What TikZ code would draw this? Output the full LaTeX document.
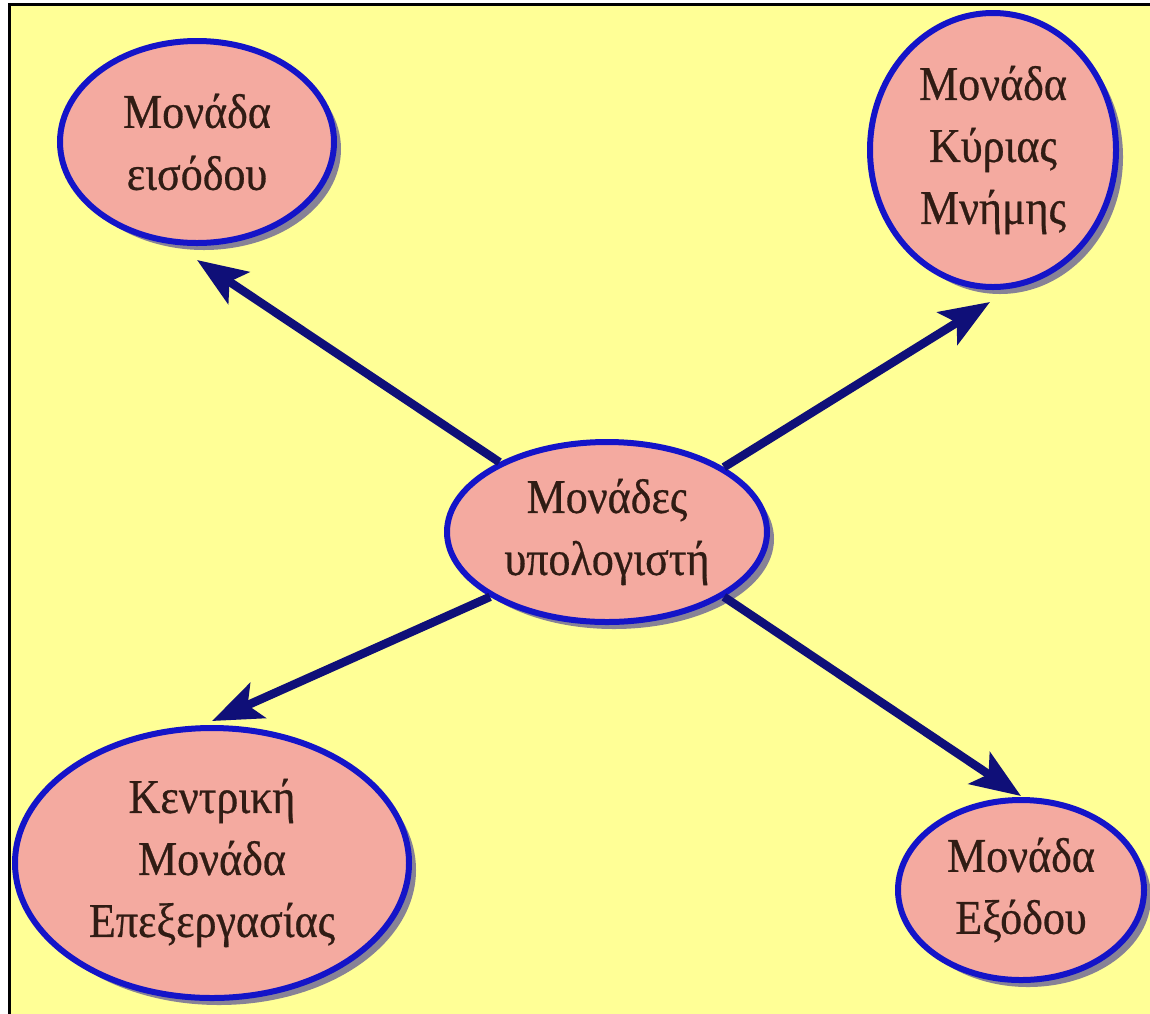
\documentclass[tikz,border=0pt]{standalone}
\usepackage{fontspec}
\setmainfont{Liberation Serif}
\newfontfamily\lblfont[FakeBold=0.6]{Liberation Serif}
\usetikzlibrary{shapes.geometric,arrows.meta,shadows}
\definecolor{bgyellow}{RGB}{255,255,150}
\definecolor{nodefill}{RGB}{244,170,160}
\definecolor{nodeborder}{RGB}{20,20,200}
\definecolor{arrowblue}{RGB}{15,15,120}
\definecolor{textbrown}{RGB}{48,28,20}
\definecolor{shadowgray}{RGB}{135,130,150}
\newcommand{\tall}[1]{\scalebox{1}[1.1]{#1}}
\tikzset{
  unit/.style={ellipse, draw=nodeborder, line width=6pt, fill=nodefill,
    inner sep=0pt, align=center, text=textbrown,
    font=\lblfont\fontsize{44}{62}\selectfont,
    drop shadow={shadow xshift=7pt, shadow yshift=-7pt, fill=shadowgray, opacity=1}},
  conn/.style={draw=arrowblue, line width=8.5pt,
    -{Stealth[length=50pt, width=38pt, inset=11pt]}},
}
\begin{document}
\begin{tikzpicture}[x=1pt, y=-1pt]
  \useasboundingbox (0,0) rectangle (1150,1013);
  \fill[white] (-5,-5) rectangle (1160,1020);
  \fill[bgyellow] (9,4) rectangle (1160,1020);
  \draw[black, line width=3pt] (9,1020) -- (9,4) -- (1160,4);

  \node[unit, minimum width=274pt, minimum height=202pt] (in) at (197,142) {\tall{Μονάδα}\\\tall{εισόδου}};
  \node[unit, minimum width=246pt, minimum height=274pt] (mem) at (993,150) {\tall{Μονάδα}\\\tall{Κύριας}\\\tall{Μνήμης}};
  \node[unit, minimum width=320pt, minimum height=180pt] (c) at (607,532) {\tall{Μονάδες}\\\tall{υπολογιστή}};
  \node[unit, minimum width=394pt, minimum height=270pt] (cpu) at (212,863) {\tall{Κεντρική}\\\tall{Μονάδα}\\\tall{Επεξεργασίας}};
  \node[unit, minimum width=246pt, minimum height=180pt] (out) at (1021,890) {\tall{Μονάδα}\\\tall{Εξόδου}};

  \draw[conn] (c.147) -- ([yshift=-14pt]in.south);
  \draw[conn] (c.29) -- ([xshift=-3pt,yshift=-12pt]mem.south);
  \draw[conn] (c.209) -- ([yshift=4pt]cpu.north);
  \draw[conn] (c.331) -- ([yshift=1pt]out.north);
\end{tikzpicture}
\end{document}
